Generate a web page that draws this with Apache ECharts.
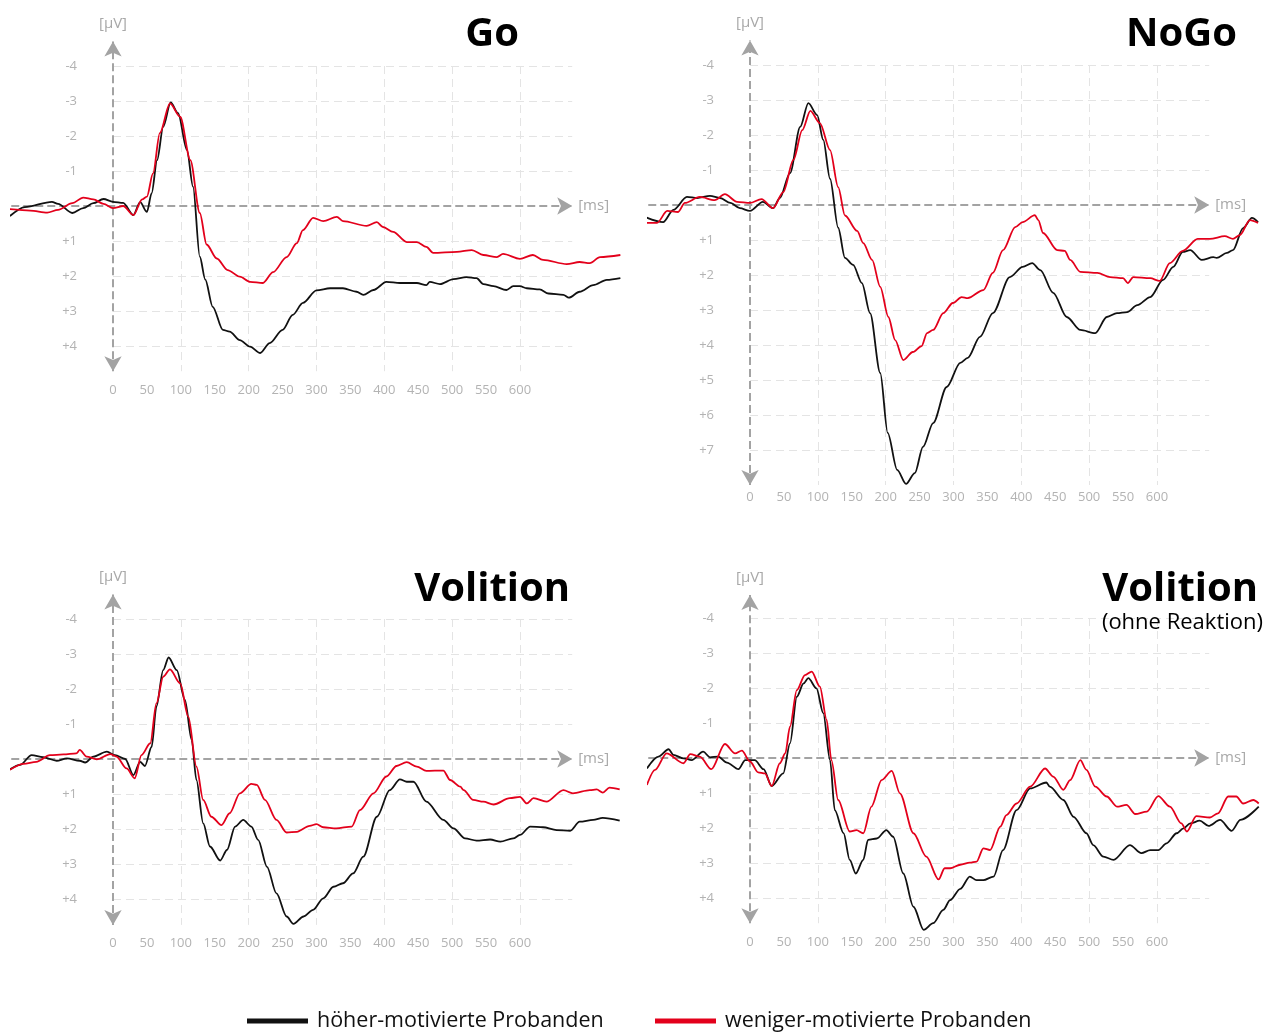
<!DOCTYPE html>
<html>
<head>
<meta charset="utf-8">
<script src="https://cdn.jsdelivr.net/npm/echarts@6/dist/echarts.min.js"></script>
<style>
  html, body { margin: 0; padding: 0; background: #fff; }
  #chart { width: 1273px; height: 1033px; }
</style>
</head>
<body>
<div id="chart"></div>
<script>
// ---- tick labels and grid positions ----
const xTickLabels = [0, 50, 100, 150, 200, 250, 300, 350, 400, 450, 500, 550, 600];
const xGridLines = [100, 200, 300, 400, 500, 600];
const yTicksShort = [-4, -3, -2, -1, 0, 1, 2, 3, 4];
const yTicksLong = [-4, -3, -2, -1, 0, 1, 2, 3, 4, 5, 6, 7];

const legendNames = ['höher-motivierte Probanden', 'weniger-motivierte Probanden'];
const panelTitles = ['Go', 'NoGo', 'Volition', 'Volition'];
const panelSubtitle = '(ohne Reaktion)';

// ---- ERP curves: [time in ms, amplitude in µV] ----
const goHigh = [[-152,0.29],[-130,0.03],[-90,-0.12],[-81,-0.06],[-60,0.2],[-44,0.06],[-29,-0.08],[-14,-0.2],[0,-0.12],[15,-0.09],[30,0.26],[40,-0.11],[50,0.17],[57,-0.37],[65,-1.31],[74,-2.26],[85,-2.96],[96,-2.65],[109,-1.6],[118,-0.55],[128,1.45],[136,2.1],[147,2.88],[162,3.54],[172,3.59],[187,3.83],[202,4.02],[217,4.2],[231,3.92],[250,3.54],[265,3.11],[280,2.77],[300,2.41],[320,2.35],[339,2.35],[359,2.45],[369,2.54],[384,2.4],[403,2.17],[423,2.2],[448,2.2],[462,2.26],[467,2.17],[482,2.23],[502,2.09],[521,2.03],[536,2.06],[546,2.23],[561,2.29],[580,2.4],[590,2.29],[600,2.29],[610,2.35],[629,2.38],[642,2.5],[664,2.54],[672,2.62],[688,2.45],[708,2.26],[728,2.11],[748,2.06]];
const goLow = [[-152,0.09],[-122,0.13],[-97,0.19],[-81,0.11],[-60,-0.08],[-44,-0.24],[-29,-0.19],[-14,-0.06],[0,0.06],[15,0],[30,0.26],[43,-0.19],[50,-0.27],[59,-0.93],[69,-2.08],[84,-2.93],[99,-2.55],[114,-1.31],[128,0.2],[138,1.1],[153,1.5],[169,1.83],[187,2.02],[202,2.17],[221,2.2],[236,1.89],[256,1.46],[271,1.06],[280,0.69],[295,0.34],[310,0.43],[330,0.31],[339,0.43],[374,0.57],[389,0.46],[398,0.6],[413,0.74],[433,1.03],[448,1.03],[462,1.17],[472,1.34],[507,1.31],[529,1.26],[546,1.4],[566,1.46],[575,1.37],[600,1.51],[619,1.4],[634,1.54],[669,1.66],[688,1.6],[703,1.63],[718,1.46],[748,1.4]];

const nogoHigh = [[-155,0.34],[-128,0.49],[-113,0.14],[-93,-0.23],[-78,-0.2],[-59,-0.26],[-44,-0.2],[-29,-0.06],[-15,0.09],[0,0.17],[19,-0.09],[34,0.09],[44,-0.2],[59,-0.91],[74,-2.23],[86,-2.91],[99,-2.57],[108,-1.86],[118,-0.75],[130,0.65],[140,1.51],[152,1.71],[165,2.23],[177,3.09],[192,4.8],[203,6.51],[217,7.57],[230,7.97],[243,7.66],[255,6.91],[270,6.23],[290,5.2],[310,4.51],[321,4.37],[339,3.77],[358,3.09],[383,2.06],[402,1.77],[416,1.66],[428,1.86],[447,2.51],[467,3.2],[487,3.57],[509,3.66],[526,3.2],[541,3.09],[556,3.06],[571,2.86],[590,2.63],[609,2.14],[624,1.77],[638,1.34],[649,1.29],[666,1.57],[683,1.49],[688,1.51],[703,1.37],[712,1.29],[727,0.66],[740,0.37],[749,0.49]];
const nogoLow = [[-155,0.51],[-137,0.51],[-122,0.17],[-106,0.2],[-96,-0.06],[-74,-0.23],[-52,-0.14],[-37,-0.31],[-19,-0.09],[0,-0.06],[17,-0.17],[34,0.09],[49,-0.37],[64,-1.29],[77,-2.14],[89,-2.69],[103,-2.34],[118,-1.57],[130,-0.51],[140,0.3],[158,0.74],[167,1.09],[180,1.57],[192,2.34],[204,3.2],[214,3.86],[226,4.43],[240,4.2],[253,4.03],[261,3.66],[270,3.57],[285,3.09],[299,2.8],[312,2.63],[321,2.66],[344,2.43],[358,1.94],[373,1.29],[391,0.63],[402,0.49],[420,0.29],[425,0.43],[432,0.8],[453,1.29],[464,1.31],[472,1.57],[487,1.91],[512,1.94],[531,2.06],[550,2.09],[557,2.23],[565,2.06],[590,2.09],[604,2.17],[619,1.66],[638,1.31],[660,0.97],[678,0.97],[700,0.89],[712,0.97],[722,0.86],[737,0.43],[749,0.51]];

const volHigh = [[-152,0.3],[-137,0.17],[-120,-0.11],[-103,-0.05],[-83,0.05],[-68,-0.02],[-49,0.05],[-41,0.1],[-29,-0.07],[-9,-0.21],[3,-0.11],[18,0],[30,0.46],[40,0.08],[47,0.2],[57,-0.35],[64,-1.5],[74,-2.54],[82,-2.9],[94,-2.54],[106,-1.69],[116,-0.54],[123,0.6],[133,1.84],[143,2.5],[158,2.9],[168,2.6],[180,1.93],[192,1.74],[204,1.93],[214,2.31],[227,3.08],[241,3.84],[256,4.5],[266,4.71],[281,4.5],[295,4.31],[310,3.98],[325,3.65],[339,3.55],[354,3.27],[369,2.79],[389,1.65],[408,0.89],[423,0.58],[433,0.65],[443,0.65],[462,1.22],[487,1.74],[502,1.98],[519,2.27],[536,2.33],[556,2.3],[571,2.36],[590,2.27],[600,2.17],[615,1.93],[634,1.95],[654,2.03],[674,2.05],[688,1.79],[708,1.74],[722,1.68],[747,1.76]];
const volLow = [[-152,0.31],[-132,0.14],[-113,0.08],[-93,-0.11],[-73,-0.13],[-54,-0.16],[-49,-0.26],[-39,-0.07],[-24,0.01],[-4,-0.14],[5,-0.07],[20,0.27],[32,0.55],[42,-0.11],[55,-0.45],[64,-1.59],[74,-2.35],[84,-2.56],[99,-2.16],[111,-1.21],[123,0.22],[133,1.17],[145,1.65],[160,1.89],[172,1.55],[187,0.98],[204,0.71],[212,0.74],[224,1.17],[241,1.74],[256,2.1],[271,2.08],[290,1.91],[300,1.86],[310,1.95],[329,1.98],[352,1.93],[364,1.46],[384,0.98],[403,0.5],[418,0.2],[433,0.09],[448,0.22],[462,0.34],[487,0.33],[497,0.6],[512,0.79],[517,0.89],[531,1.17],[546,1.22],[561,1.3],[585,1.12],[600,1.08],[610,1.27],[620,1.12],[639,1.22],[664,0.89],[678,0.98],[703,0.89],[713,0.87],[722,0.96],[732,0.82],[747,0.87]];

const volNoRespHigh = [[-152,0.3],[-135,-0.04],[-120,-0.25],[-113,-0.09],[-98,0.01],[-86,0.06],[-69,-0.18],[-59,-0.02],[-47,-0.04],[-34,0.13],[-17,0.32],[-7,0.06],[7,0.06],[20,0.32],[32,0.8],[49,0.44],[59,-0.42],[69,-1.75],[79,-2.13],[86,-2.28],[98,-1.99],[108,-1.28],[118,0.06],[125,1.49],[138,2.15],[147,2.91],[156,3.3],[167,2.91],[174,2.34],[187,2.3],[201,2.06],[211,2.25],[226,3.3],[241,4.25],[256,4.91],[270,4.72],[285,4.34],[295,4.06],[310,3.74],[324,3.39],[334,3.49],[344,3.49],[359,3.39],[373,2.63],[393,1.49],[413,0.87],[437,0.7],[442,0.82],[462,1.2],[477,1.68],[496,2.15],[506,2.49],[521,2.82],[536,2.91],[560,2.49],[577,2.72],[590,2.63],[602,2.63],[614,2.44],[629,2.15],[639,2.01],[649,1.87],[663,1.79],[676,1.94],[693,1.77],[710,2.08],[723,1.77],[750,1.39]];
const volNoRespLow = [[-152,0.77],[-140,0.34],[-123,-0.13],[-98,0.15],[-88,-0.11],[-74,-0.04],[-57,0.32],[-37,-0.4],[-22,-0.13],[-12,-0.21],[0,0.1],[12,0.41],[22,0.44],[32,0.8],[44,0.15],[52,-0.13],[59,-0.9],[69,-1.94],[81,-2.37],[91,-2.47],[103,-2.04],[113,-1.09],[120,0.06],[130,1.2],[147,2.1],[157,2.06],[167,2.15],[179,1.39],[194,0.63],[209,0.37],[221,1.01],[241,2.15],[260,2.82],[278,3.47],[287,3.15],[295,3.15],[310,3.05],[324,2.99],[334,2.96],[344,2.58],[354,2.63],[369,1.96],[378,1.63],[393,1.3],[413,0.82],[435,0.3],[447,0.53],[462,0.91],[472,0.63],[487,0.06],[496,0.34],[509,0.82],[526,1.1],[541,1.39],[555,1.34],[568,1.6],[585,1.53],[602,1.09],[619,1.39],[636,1.87],[644,2.1],[658,1.66],[678,1.7],[690,1.58],[705,1.1],[717,1.1],[727,1.3],[742,1.2],[750,1.3]];

// ---- layout ----
const X_MIN = -150, X_MAX = 750, X_INTERVAL = 50;
const PX_PER_MS = 0.6783, PX_PER_UV = 35;
const X_AXIS_TIP = 677;          // ms, tip of the time-axis arrow
const ARROW_W = 13, ARROW_L = 15;
const BLACK = '#111111', RED = '#e3001b';
const AXIS_GREY = '#a3a3a3', GRID_GREY = '#e4e4e4', LABEL_GREY = '#b3b3b3';
const FONT = "'Open Sans', sans-serif";

const panels = [
  { x0: 113, y0: 206, yMin: -5, yMax: 5, ticks: yTicksShort, tipTop: -4.7, tipBottom: 4.72, high: goHigh, low: goLow, labelMargin: 3 },
  { x0: 750, y0: 205, yMin: -5, yMax: 8, ticks: yTicksLong, tipTop: -4.7, tipBottom: 8.0, high: nogoHigh, low: nogoLow, labelMargin: 6 },
  { x0: 113, y0: 759, yMin: -5, yMax: 5, ticks: yTicksShort, tipTop: -4.7, tipBottom: 4.74, high: volHigh, low: volLow, labelMargin: 3 },
  { x0: 750, y0: 758, yMin: -5, yMax: 5, ticks: yTicksShort, tipTop: -4.66, tipBottom: 4.72, high: volNoRespHigh, low: volNoRespLow, labelMargin: 3 }
];

const grids = [], xAxes = [], yAxes = [], series = [];
const zeroOffsetPx = (0 - X_MIN) * PX_PER_MS;   // distance from grid left edge to t = 0

panels.forEach((p, i) => {
  grids.push({
    left: p.x0 - zeroOffsetPx,
    width: (X_MAX - X_MIN) * PX_PER_MS,
    top: p.y0 + p.yMin * PX_PER_UV,
    height: (p.yMax - p.yMin) * PX_PER_UV,
    containLabel: false,
    outerBoundsMode: 'none'
  });
  xAxes.push({
    gridIndex: i, type: 'value', min: X_MIN, max: X_MAX, interval: X_INTERVAL,
    position: 'bottom',
    axisLine: { show: false, onZero: false },
    axisTick: { show: false },
    splitLine: { show: false },
    axisLabel: {
      margin: p.labelMargin, color: LABEL_GREY, fontSize: 13, fontFamily: FONT,
      formatter: v => (xTickLabels.indexOf(v) >= 0 ? String(v) : '')
    }
  });
  // amplitude axis sits at t = 0 (negative offset shifts it right from the grid edge)
  yAxes.push({
    gridIndex: i, type: 'value', inverse: true, min: p.yMin, max: p.yMax, interval: 1,
    position: 'left', offset: -zeroOffsetPx,
    axisLine: { show: false, onZero: false },
    axisTick: { show: false },
    splitLine: { show: false },
    axisLabel: {
      margin: 36, color: LABEL_GREY, fontSize: 13, fontFamily: FONT,
      formatter: v => (p.ticks.indexOf(v) < 0 || v === 0 ? '' : (v > 0 ? '+' + v : String(v)))
    }
  });

  const gridStyle = { color: GRID_GREY, width: 1, type: [8, 5] };
  const axisStyle = { color: AXIS_GREY, width: 2, type: [8, 4] };
  const lines = [];
  p.ticks.filter(v => v !== 0).forEach(v => {
    lines.push([{ coord: [0, v], lineStyle: gridStyle }, { coord: [X_AXIS_TIP, v], lineStyle: gridStyle }]);
  });
  xGridLines.forEach(x => {
    lines.push([{ coord: [x, p.ticks[0]], lineStyle: gridStyle }, { coord: [x, p.tipBottom], lineStyle: gridStyle }]);
  });
  const msLabel = { show: true, position: 'end', formatter: '[ms]', distance: 6, color: '#a8a8a8', fontSize: 15, fontFamily: FONT };
  lines.push([
    { coord: [X_MIN, 0], symbol: 'none', lineStyle: axisStyle, label: msLabel },
    { coord: [X_AXIS_TIP, 0], symbol: 'arrow', symbolSize: [ARROW_W, ARROW_L], lineStyle: axisStyle, label: msLabel }
  ]);
  const uvLabel = { show: true, position: 'end', formatter: '[µV]', distance: 10, color: '#a8a8a8', fontSize: 15, fontFamily: FONT };
  lines.push([
    { coord: [0, p.tipBottom], symbol: 'arrow', symbolSize: [ARROW_W, ARROW_L], lineStyle: axisStyle, label: uvLabel },
    { coord: [0, p.tipTop], symbol: 'arrow', symbolSize: [ARROW_W, ARROW_L], lineStyle: axisStyle, label: uvLabel }
  ]);

  series.push({
    type: 'line', xAxisIndex: i, yAxisIndex: i, data: [], silent: true, z: 1,
    markLine: { silent: true, animation: false, z: 1, symbol: 'none', label: { show: false }, data: lines }
  });
  series.push({
    name: legendNames[0], type: 'line', xAxisIndex: i, yAxisIndex: i, data: p.high,
    showSymbol: false, symbol: 'none', smooth: 0.3, smoothMonotone: 'x', clip: false, z: 3,
    color: BLACK, lineStyle: { color: BLACK, width: 1.8 }, itemStyle: { color: BLACK }
  });
  series.push({
    name: legendNames[1], type: 'line', xAxisIndex: i, yAxisIndex: i, data: p.low,
    showSymbol: false, symbol: 'none', smooth: 0.3, smoothMonotone: 'x', clip: false, z: 4,
    color: RED, lineStyle: { color: RED, width: 1.8 }, itemStyle: { color: RED }
  });
});

const titleStyle = { fontSize: 40, fontWeight: 'bold', color: '#000', fontFamily: FONT };
const legendText = { fontSize: 21.5, color: '#111', fontFamily: FONT, padding: [0, 0, 0, 4] };

const chart = echarts.init(document.getElementById('chart'), null, { renderer: 'canvas' });
chart.setOption({
  animation: false,
  backgroundColor: '#fff',
  title: [
    { text: panelTitles[0], right: 1273 - 519, top: 15, padding: 0, textStyle: titleStyle },
    { text: panelTitles[1], right: 1273 - 1237, top: 15, padding: 0, textStyle: titleStyle },
    { text: panelTitles[2], right: 1273 - 570, top: 570, padding: 0, textStyle: titleStyle },
    { text: panelTitles[3], right: 1273 - 1258, top: 570, padding: 0, textStyle: titleStyle },
    { text: panelSubtitle, right: 1273 - 1263, top: 612, padding: 0, textStyle: { fontSize: 22, fontWeight: 'normal', color: '#000', fontFamily: FONT } }
  ],
  legend: [
    { data: [legendNames[0]], left: 247, top: 1010, padding: 0, icon: 'rect', itemWidth: 61, itemHeight: 5, textStyle: legendText, selectedMode: false },
    { data: [legendNames[1]], left: 655, top: 1010, padding: 0, icon: 'rect', itemWidth: 61, itemHeight: 5, textStyle: legendText, selectedMode: false }
  ],
  tooltip: { show: false },
  grid: grids,
  xAxis: xAxes,
  yAxis: yAxes,
  series: series
});
</script>
</body>
</html>
